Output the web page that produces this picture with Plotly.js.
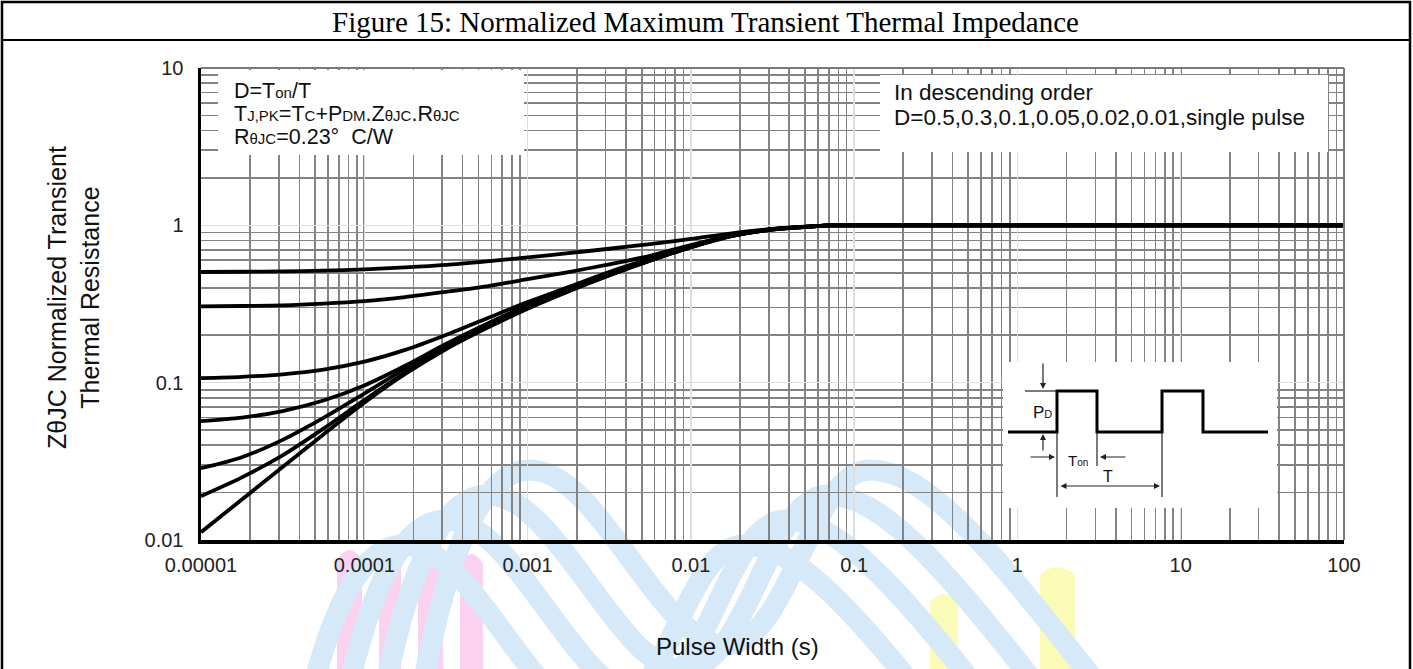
<!DOCTYPE html>
<html>
<head>
<meta charset="utf-8">
<script src="https://cdn.plot.ly/plotly-3.0.1.min.js"></script>
<style>
html,body{margin:0;padding:0;background:#fff;}
#chart{width:1413px;height:669px;}
</style>
</head>
<body>
<div id="chart"></div>
<script>
// ---- data ----
const pulseWidth = [1e-5, 1.78e-5, 3.16e-5, 5.62e-5, 1e-4, 1.78e-4, 3.16e-4, 5.62e-4, 1e-3, 1.78e-3, 3.16e-3, 5.62e-3, 1e-2, 1.78e-2, 3.16e-2, 5.62e-2, 7.08e-2, 0.1, 1, 10, 100];
const zD05    = [0.505, 0.507, 0.51, 0.515, 0.525, 0.54, 0.56, 0.59, 0.625, 0.665, 0.71, 0.76, 0.82, 0.89, 0.95, 0.988, 1, 1, 1, 1, 1];
const zD03    = [0.305, 0.307, 0.31, 0.318, 0.33, 0.35, 0.378, 0.41, 0.455, 0.505, 0.565, 0.64, 0.75, 0.86, 0.945, 0.987, 1, 1, 1, 1, 1];
const zD01    = [0.107, 0.109, 0.113, 0.121, 0.136, 0.1615, 0.201, 0.256, 0.325, 0.405, 0.505, 0.615, 0.74, 0.865, 0.946, 0.987, 1, 1, 1, 1, 1];
const zD005   = [0.057, 0.060, 0.066, 0.077, 0.096, 0.128, 0.176, 0.236, 0.31, 0.395, 0.495, 0.607, 0.735, 0.86, 0.944, 0.986, 1, 1, 1, 1, 1];
const zD002   = [0.0286, 0.0336, 0.0433, 0.0597, 0.0853, 0.123, 0.174, 0.235, 0.305, 0.386, 0.485, 0.60, 0.728, 0.857, 0.942, 0.986, 1, 1, 1, 1, 1];
const zD001   = [0.019, 0.025, 0.0345, 0.051, 0.0775, 0.116, 0.166, 0.225, 0.298, 0.383, 0.482, 0.597, 0.727, 0.856, 0.941, 0.985, 1, 1, 1, 1, 1];
const zSingle = [0.0112, 0.0181, 0.0291, 0.0469, 0.0746, 0.1135, 0.163, 0.222, 0.295, 0.38, 0.48, 0.595, 0.725, 0.855, 0.94, 0.985, 1, 1, 1, 1, 1];
const seriesNames = ['D=0.5', 'D=0.3', 'D=0.1', 'D=0.05', 'D=0.02', 'D=0.01', 'single pulse'];
const seriesValues = [zD05, zD03, zD01, zD005, zD002, zD001, zSingle];

const xTickVals = [1e-5, 1e-4, 1e-3, 1e-2, 1e-1, 1, 10, 100];
const xTickText = ['0.00001', '0.0001', '0.001', '0.01', '0.1', '1', '10', '100'];
const yTickVals = [0.01, 0.1, 1, 10];
const yTickText = ['0.01', '0.1', '1', '10'];

const chartTitle = 'Figure 15: Normalized Maximum Transient Thermal Impedance';
const xTitle = 'Pulse Width (s)';
const yTitle = 'Z\u03b8JC Normalized Transient<br>Thermal Resistance';

// ---- layout helpers (pixel -> paper) ----
const L = 201, R = 1344, T = 68, B = 540;
const PX = x => (x - L) / (R - L);
const PY = y => (B - y) / (B - T);

const sm = s => '<span style="font-size:15px">' + s + '</span>';

const traces = seriesValues.map((v, i) => ({
  type: 'scatter', mode: 'lines', name: seriesNames[i],
  x: pulseWidth, y: v,
  line: {color: '#000', width: 3.8, shape: 'spline', smoothing: 0.8},
  hoverinfo: 'skip'
}));

const shapes = [];
const line = (x0, y0, x1, y1, w, c, layer) => shapes.push({
  type: 'line', xref: 'paper', yref: 'paper', x0: PX(x0), y0: PY(y0), x1: PX(x1), y1: PY(y1),
  line: {color: c || '#000', width: w || 1}, layer: layer || 'above'
});

// watermark (below grid)
const wmBlue = '#d6e9f9';
const wmPink = '#fad2ef';
const wmYel = '#fbfbb8';
[[337,362,548],[379,401,545],[418,443,548],[460,483,552]].forEach(([a,b,t]) => shapes.push({
  type:'path', xref:'paper', yref:'paper', layer:'below',
  path: `M ${PX(a)},${PY(680)} L ${PX(a)},${PY(t+12)} Q ${PX((a+b)/2)},${PY(t-8)} ${PX(b)},${PY(t+12)} L ${PX(b)},${PY(680)} Z`,
  fillcolor: wmPink, line:{width:0}
}));
[[930,958,592],[1040,1075,565]].forEach(([a,b,t]) => shapes.push({
  type:'path', xref:'paper', yref:'paper', layer:'below',
  path: `M ${PX(a)},${PY(680)} L ${PX(a)},${PY(t+10)} Q ${PX((a+b)/2)},${PY(t-6)} ${PX(b)},${PY(t+10)} L ${PX(b)},${PY(680)} Z`,
  fillcolor: wmYel, line:{width:0}
}));
const bandPts = [[420,700],[445,560],[480,470],[530,470],[600,470],[660,645],[725,645],[790,645],[810,470],[870,470],[930,470],[1000,560],[1110,700]];
for (let k = 0; k < 4; k++) {
  const ox = -42 * k, oy = 25 * k;
  const p = bandPts.map(([x, y]) => [PX(x + ox), PY(y + oy)]);
  let d = `M ${p[0][0]},${p[0][1]}`;
  for (let i = 1; i < p.length; i += 3) d += ` C ${p[i][0]},${p[i][1]} ${p[i+1][0]},${p[i+1][1]} ${p[i+2][0]},${p[i+2][1]}`;
  shapes.push({type:'path', xref:'paper', yref:'paper', layer:'below', path:d,
    line:{color: wmBlue, width: 21}});
}

// outer frame of the figure table
line(1, 2, 1411, 2, 2.5);
line(1, 40, 1411, 40, 2);
line(2, 1, 2, 672, 2.5);
line(1410, 1, 1410, 672, 2.5);
// top and right border of the plot (gray)
line(L, T, R, T, 2, '#7a7a7a');
line(R, T, R, B, 2, '#7a7a7a');

// inset pulse diagram
shapes.push({type:'rect', xref:'paper', yref:'paper', x0:PX(1003), x1:PX(1277), y0:PY(508), y1:PY(362),
  fillcolor:'#fff', line:{width:0}, layer:'above'});
shapes.push({type:'path', xref:'paper', yref:'paper', layer:'above',
  path: `M ${PX(1008)},${PY(432)} L ${PX(1057)},${PY(432)} L ${PX(1057)},${PY(391)} L ${PX(1097)},${PY(391)} L ${PX(1097)},${PY(432)} ` +
        `L ${PX(1162)},${PY(432)} L ${PX(1162)},${PY(391)} L ${PX(1203)},${PY(391)} L ${PX(1203)},${PY(432)} L ${PX(1268)},${PY(432)}`,
  line:{color:'#000', width:3}});
line(1025, 391, 1057, 391, 1.2, '#222');
line(1057, 432, 1057, 497, 1.2, '#222');
line(1097, 432, 1097, 466, 1.2, '#222');
line(1162, 432, 1162, 497, 1.2, '#222');

const annotations = [];
const txt = (s, x, y, size, opts) => annotations.push(Object.assign({
  text: s, xref: 'paper', yref: 'paper', x: PX(x), y: PY(y), showarrow: false,
  xanchor: 'left', yanchor: 'middle',
  font: {family: 'Liberation Sans, Arial, sans-serif', size: size, color: '#111'}
}, opts || {}));
const arrow = (hx, hy, tx, ty, side) => annotations.push({
  text: '', xref: 'paper', yref: 'paper', x: PX(hx), y: PY(hy), ax: tx - hx, ay: ty - hy,
  showarrow: true, arrowhead: 2, arrowsize: 1, arrowwidth: 1.2, arrowcolor: '#222',
  arrowside: side || 'end', standoff: 0, startstandoff: 0
});

// white text boxes
const box = (x0, y0, x1, y1) => annotations.push({
  text: '', xref: 'paper', yref: 'paper', x: PX(x0), y: PY(y0), xanchor: 'left', yanchor: 'top',
  width: x1 - x0, height: y1 - y0, bgcolor: '#fff', showarrow: false, borderpad: 0, borderwidth: 0
});
box(218, 70, 524, 155);
box(880, 75, 1328, 152);

txt('D=T' + sm('on') + '/T', 232, 91, 21.5);
txt('T' + sm('J,PK') + '=T' + sm('C') + '+P' + sm('DM') + '.Z' + sm('\u03b8JC') + '.R' + sm('\u03b8JC'), 232, 114, 21.5);
txt('R' + sm('\u03b8JC') + '=0.23\u00b0  C/W', 232, 137, 21.5);
txt('In descending order', 892, 92.5, 22.5);
txt('D=0.5,0.3,0.1,0.05,0.02,0.01,single pulse', 892, 117.5, 22.5);

// inset labels and arrows
txt('P<span style="font-size:11px">D</span>', 1031, 412, 17);
txt('T<span style="font-size:10px">on</span>', 1066, 460, 15);
txt('T', 1101, 476, 16);
arrow(1043, 389, 1043, 362);
arrow(1043, 434, 1043, 452);
arrow(1055, 457, 1029, 457);
arrow(1100, 457, 1127, 457);
arrow(1160, 486, 1059, 486, 'end+start');

// axis titles
txt(xTitle, 737, 646, 24, {xanchor: 'center'});
txt(yTitle, 73, 298, 25, {xanchor: 'center', textangle: -90});

const layout = {
  width: 1413, height: 669,
  margin: {l: L, r: 1413 - R, t: T, b: 669 - B},
  paper_bgcolor: '#fff', plot_bgcolor: '#fff',
  showlegend: false,
  font: {family: 'Liberation Sans, Arial, sans-serif', color: '#222'},
  title: {text: chartTitle, x: 0.4993, xanchor: 'center', y: 1 - 22 / 669, yanchor: 'middle', yref: 'container',
    font: {family: 'Liberation Serif, Times New Roman, serif', size: 29, color: '#000'}},
  xaxis: {
    type: 'log', range: [-5, 2], tickvals: xTickVals, ticktext: xTickText,
    showgrid: true, gridcolor: '#dedede', gridwidth: 1.4,
    minor: {dtick: 'D1', showgrid: true, gridcolor: '#838383', gridwidth: 1.6, ticks: ''},
    showline: true, linecolor: '#000', linewidth: 3.5, ticks: '', zeroline: false,
    tickfont: {size: 20, color: '#222'}, ticklabelstandoff: 4
  },
  yaxis: {
    type: 'log', range: [-2, 1], tickvals: yTickVals, ticktext: yTickText,
    showgrid: true, gridcolor: '#dedede', gridwidth: 1.4,
    minor: {dtick: 'D1', showgrid: true, gridcolor: '#838383', gridwidth: 1.6, ticks: ''},
    showline: true, linecolor: '#000', linewidth: 3.5, ticks: '', zeroline: false,
    tickfont: {size: 20, color: '#222'}, ticklabelstandoff: 10
  },
  shapes: shapes,
  annotations: annotations
};

Plotly.newPlot('chart', traces, layout, {staticPlot: true, displayModeBar: false});
</script>
</body>
</html>
